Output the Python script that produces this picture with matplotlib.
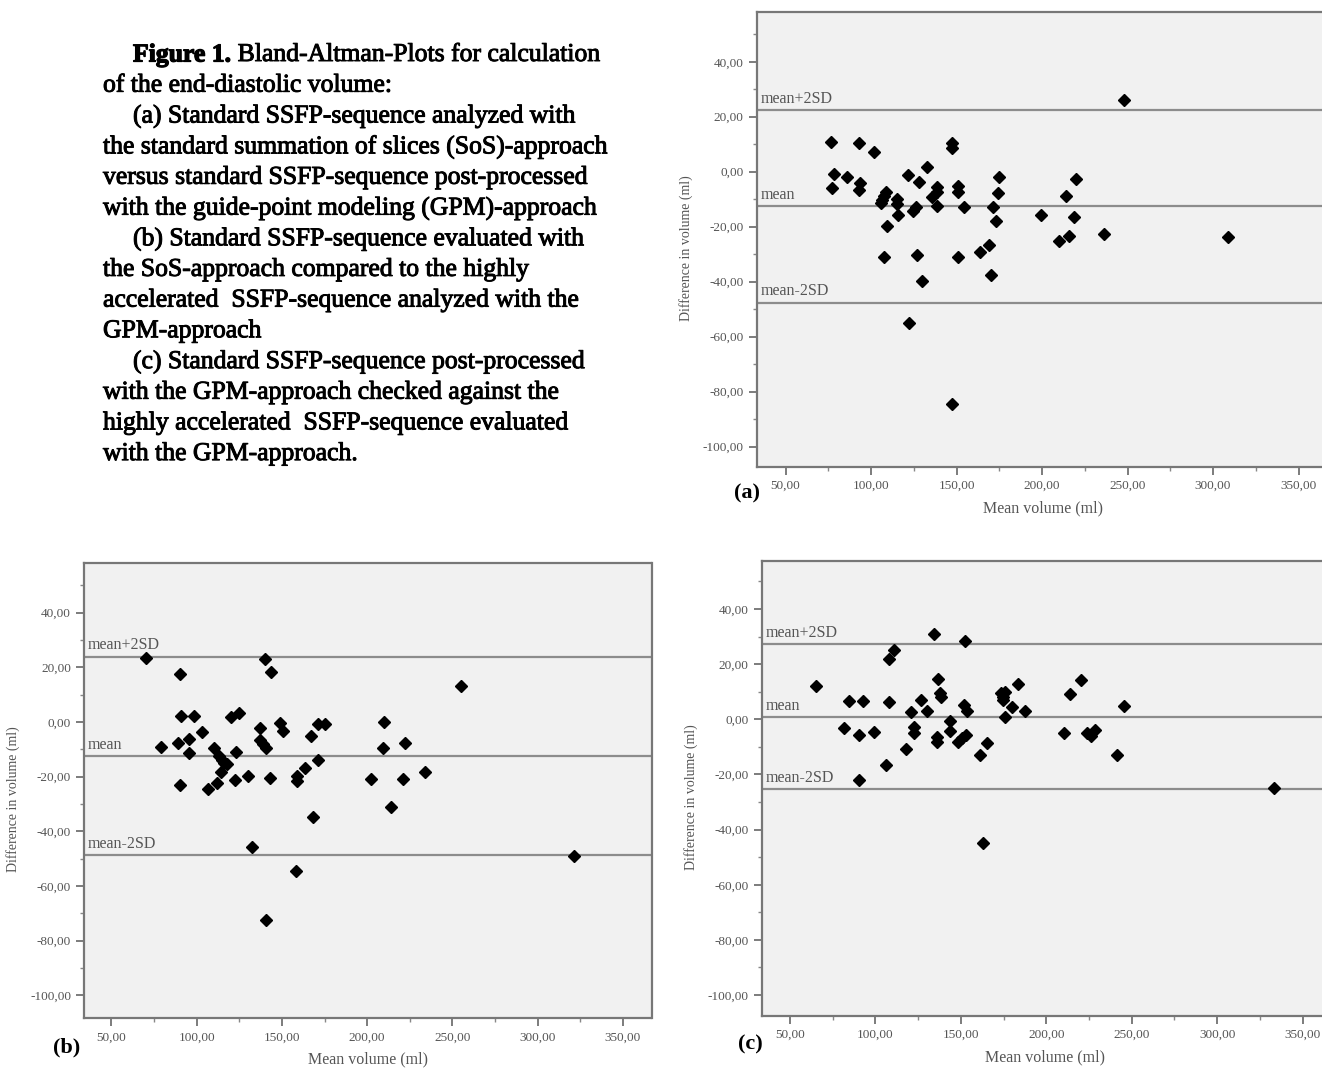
import matplotlib
matplotlib.use('Agg')
import matplotlib.pyplot as plt
import matplotlib.patheffects as pe
from matplotlib.ticker import MultipleLocator, FuncFormatter

plt.rcParams['font.family'] = ['Liberation Serif', 'DejaVu Serif']

# ---- panel (a): SoS standard vs GPM standard ----
a_mean_vol = [76.7, 78.3, 77.2, 86.1, 93.2, 93.7, 93.2, 101.5, 108.6, 106.2,
              105.7, 107.5, 115.0, 115.0, 115.7, 109.3, 121.6, 127.9, 124.6, 126.3,
              132.9, 135.7, 138.6, 138.8, 138.8, 147.5, 147.5, 151.1, 151.1, 154.6,
              174.7, 174.0, 171.6, 172.8, 107.4, 127.0, 151.1, 163.6, 168.8, 199.5,
              214.1, 219.6, 218.4, 210.1, 216.0, 236.1, 248.0, 308.6, 129.8, 170.0,
              122.3, 147.5]
a_diff = [10.9, -0.8, -5.8, -2.1, 10.5, -4.0, -6.7, 7.0, -7.3, -10.3,
          -11.5, -9.0, -10.1, -11.8, -15.8, -19.6, -1.2, -3.6, -14.2, -13.0,
          1.8, -9.1, -7.3, -5.7, -12.5, 10.5, 8.5, -5.2, -7.3, -12.7,
          -1.8, -7.9, -12.7, -17.8, -30.9, -30.3, -31.2, -29.1, -26.7, -15.8,
          -8.8, -2.7, -16.4, -25.1, -23.3, -22.8, 26.1, -23.9, -39.6, -37.6,
          -54.9, -84.5]
a_lines = [22.4, -12.6, -47.6]

# ---- panel (b): SoS standard vs GPM accelerated ----
b_mean_vol = [70.5, 90.2, 90.7, 98.6, 78.9, 88.8, 95.2, 95.7, 103.1, 90.2,
              106.8, 111.7, 110.0, 113.0, 114.7, 116.2, 117.9, 114.0, 123.3, 120.4,
              124.8, 122.3, 130.2, 137.2, 137.2, 138.9, 140.6, 140.1, 143.8, 143.1,
              148.8, 150.5, 158.6, 158.6, 163.6, 167.3, 171.0, 175.2, 171.0, 168.5,
              209.8, 209.3, 222.1, 202.3, 220.9, 234.0, 213.7, 254.9, 132.7, 158.4,
              140.9, 321.6]
b_diff = [23.3, 17.4, 2.3, 2.3, -9.3, -7.8, -6.2, -11.2, -3.5, -23.0,
          -24.5, -22.2, -9.4, -12.4, -13.9, -15.1, -15.4, -18.2, -10.9, 2.0,
          3.2, -21.2, -19.8, -2.3, -6.6, -8.2, -9.6, 23.0, 18.4, -20.6,
          -0.5, -3.2, -19.8, -21.5, -17.0, -5.0, -0.9, -0.9, -13.9, -34.8,
          -0.1, -9.4, -7.6, -21.0, -20.7, -18.2, -31.0, 13.3, -45.9, -54.4,
          -72.4, -49.0]
b_lines = [23.9, -12.4, -48.7]

# ---- panel (c): GPM standard vs GPM accelerated ----
c_mean_vol = [65.1, 84.7, 93.0, 81.6, 90.2, 98.9, 90.2, 107.9, 110.7, 107.9,
              106.4, 117.8, 120.9, 122.5, 122.5, 126.5, 130.3, 134.3, 136.7, 137.9,
              138.6, 136.2, 136.0, 143.8, 143.8, 148.5, 152.0, 153.9, 152.5, 153.2,
              150.9, 161.5, 165.5, 173.8, 175.6, 174.5, 174.5, 175.6, 179.9, 183.4,
              187.5, 210.6, 214.1, 220.5, 224.1, 226.0, 228.8, 241.3, 245.3, 333.4,
              162.7]
c_diff = [12.2, 6.8, 6.8, -3.3, -5.7, -4.7, -22.0, 21.8, 25.2, 6.4,
          -16.6, -10.9, 2.8, -2.7, -5.1, 7.0, 3.1, 31.0, 14.6, 9.4,
          8.2, -6.3, -8.1, -0.5, -4.1, -8.1, 5.2, 3.1, 28.4, -5.7,
          -6.9, -12.9, -8.7, 9.7, 10.0, 8.2, 7.0, 1.0, 4.4, 12.7,
          3.0, -5.1, 9.1, 14.3, -5.1, -5.9, -3.9, -12.9, 5.0, -25.0,
          -45.0]
c_lines = [27.2, 0.9, -25.4]

line_names = ['mean+2SD', 'mean', 'mean-2SD']

caption = [
    (True, 'Figure 1.', ' Bland-Altman-Plots for calculation'),
    (False, '', 'of the end-diastolic volume:'),
    (True, '', '(a) Standard SSFP-sequence analyzed with'),
    (False, '', 'the standard summation of slices (SoS)-approach'),
    (False, '', 'versus standard SSFP-sequence post-processed'),
    (False, '', 'with the guide-point modeling (GPM)-approach'),
    (True, '', '(b) Standard SSFP-sequence evaluated with'),
    (False, '', 'the SoS-approach compared to the highly'),
    (False, '', 'accelerated  SSFP-sequence analyzed with the'),
    (False, '', 'GPM-approach'),
    (True, '', '(c) Standard SSFP-sequence post-processed'),
    (False, '', 'with the GPM-approach checked against the'),
    (False, '', 'highly accelerated  SSFP-sequence evaluated'),
    (False, '', 'with the GPM-approach.'),
]

W, H = 1322, 1070
fig = plt.figure(figsize=(W / 100, H / 100), dpi=100)


def px(x0, y_top, x1, y_bot):
    return [x0 / W, 1 - y_bot / H, (x1 - x0) / W, (y_bot - y_top) / H]


def comma_fmt(v, pos):
    return f'{v:.2f}'.replace('.', ',')


def bland_altman(rect, xs, ys, lines, xlim, ylim, letter, letter_xy):
    ax = fig.add_axes(rect)
    ax.set_facecolor('#f1f1f1')
    for h in lines:
        ax.axhline(h, color='#8c8c8c', lw=1.6, zorder=1)
    for h, name in zip(lines, line_names):
        ax.text(xlim[0] + 2.0, h + 1.2, name, fontsize=11.5, color='#555555',
                va='bottom', ha='left')
    ax.plot(xs, ys, ls='none', marker='D', ms=6, color='black', zorder=3)
    ax.set_xlim(*xlim)
    ax.set_ylim(*ylim)
    ax.set_xticks([50, 100, 150, 200, 250, 300, 350])
    ax.set_yticks([40, 20, 0, -20, -40, -60, -80, -100])
    ax.xaxis.set_minor_locator(MultipleLocator(25))
    ax.yaxis.set_minor_locator(MultipleLocator(10))
    ax.xaxis.set_major_formatter(FuncFormatter(comma_fmt))
    ax.yaxis.set_major_formatter(FuncFormatter(comma_fmt))
    ax.tick_params(which='major', length=6, width=1.2, color='#666666',
                   labelsize=9.5, labelcolor='#555555', direction='out')
    ax.tick_params(which='minor', length=3, width=1, color='#888888', direction='out')
    for side in ['left', 'bottom', 'top', 'right']:
        ax.spines[side].set_color('#777777')
        ax.spines[side].set_linewidth(1.6)
    ax.set_xlabel('Mean volume (ml)', fontsize=11.5, color='#555555', labelpad=6)
    ax.set_ylabel('Difference in volume (ml)', fontsize=10, color='#555555')
    width_px = rect[2] * W
    ax.yaxis.set_label_coords(-64 / width_px, 0.48)
    fig.text(letter_xy[0] / W, 1 - letter_xy[1] / H, letter, fontsize=16,
             fontweight='bold', ha='center', va='center')
    return ax


bland_altman(px(757, 11.7, 1329, 466.7), a_mean_vol, a_diff, a_lines,
             (33.3, 367.8), (-107.3, 58.2), '(a)', (747, 493))
bland_altman(px(84.2, 562.7, 651.5, 1018.3), b_mean_vol, b_diff, b_lines,
             (34.0, 366.8), (-108.4, 58.3), '(b)', (67, 1047))
bland_altman(px(761.8, 560.5, 1329, 1015.7), c_mean_vol, c_diff, c_lines,
             (33.5, 365.5), (-107.5, 57.6), '(c)', (750, 1044))

# caption block (regular serif, slightly thickened to match the scan)
y0, dy = 55, 30.7
cap_size = 18.5
heavy = [pe.withStroke(linewidth=0.7, foreground='black')]
heavier = [pe.withStroke(linewidth=0.9, foreground='black')]
for i, (indent, bold_part, rest) in enumerate(caption):
    x = 133 if indent else 103
    y = 1 - (y0 + i * dy) / H
    if bold_part:
        t = fig.text(x / W, y, bold_part, fontsize=cap_size, fontweight='bold',
                     ha='left', va='center', path_effects=heavier)
        fig.canvas.draw()
        bb = t.get_window_extent()
        fig.text(bb.x1 / W, y, rest, fontsize=cap_size, ha='left', va='center',
                 path_effects=heavy)
    else:
        fig.text(x / W, y, rest, fontsize=cap_size, ha='left', va='center',
                 path_effects=heavy)

fig.savefig('out.png', dpi=100, facecolor='white')
